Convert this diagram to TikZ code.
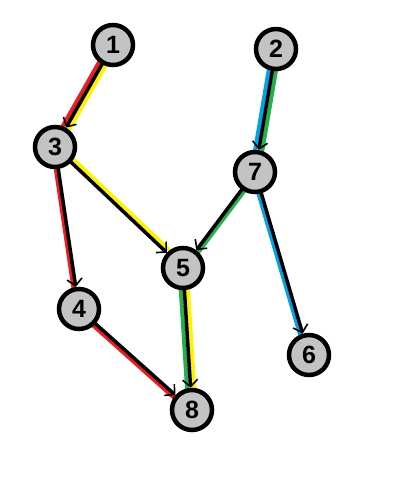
\documentclass[tikz,border=0pt]{standalone}
\usepackage{fontspec}
\setmainfont{Liberation Sans}
\usetikzlibrary{calc,arrows.meta,backgrounds}
\definecolor{pred}{HTML}{ED1C24}
\definecolor{pyellow}{HTML}{FFF200}
\definecolor{pgreen}{HTML}{22B14C}
\definecolor{pblue}{HTML}{00A2E8}
\definecolor{pgray}{HTML}{C3C3C3}
\tikzset{
  vert/.style={circle,draw=black,line width=4.5pt,fill=pgray,minimum size=40pt,inner sep=0pt,font=\bfseries\fontsize{25}{25}\selectfont},
  blk/.style={draw=black,line width=3.5pt,-{Straight Barb[length=7pt,width=15pt,line width=1.6pt]}},
  col/.style={line width=4pt,line cap=butt},
}
\newcommand\offl[4]{\draw[col,#1] ($(#2.center)!#4!90:(#3.center)$) -- ($(#3.center)!#4!-90:(#2.center)$);}
\begin{document}
\begin{tikzpicture}[x=1pt,y=-1pt]
\node[vert] (n1) at (113,45) {1};
\node[vert] (n2) at (276,49) {2};
\node[vert] (n3) at (55,147) {3};
\node[vert] (n7) at (255,172) {7};
\node[vert] (n5) at (183,268) {5};
\node[vert] (n4) at (79,309) {4};
\node[vert] (n6) at (309,355) {6};
\node[vert] (n8) at (192,410) {8};
\begin{scope}[on background layer]
\fill[white] (0,0) rectangle (410,477);
\offl{pred}{n1}{n3}{-3.6pt}
\offl{pyellow}{n1}{n3}{3.6pt}
\offl{pyellow}{n3}{n5}{3.6pt}
\offl{pred}{n3}{n4}{-2.4pt}
\offl{pred}{n4}{n8}{-2.8pt}
\offl{pyellow}{n5}{n8}{3.6pt}
\offl{pgreen}{n5}{n8}{-3.6pt}
\offl{pgreen}{n2}{n7}{3.6pt}
\offl{pblue}{n2}{n7}{-3.6pt}
\offl{pgreen}{n7}{n5}{2.8pt}
\offl{pblue}{n7}{n6}{-2.8pt}
\draw[blk] (n1.center) -- (n3);
\draw[blk] (n3.center) -- (n5);
\draw[blk] (n3.center) -- (n4);
\draw[blk] (n4.center) -- (n8);
\draw[blk] (n5.center) -- (n8);
\draw[blk] (n2.center) -- (n7);
\draw[blk] (n7.center) -- (n5);
\draw[blk] (n7.center) -- (n6);
\end{scope}
\useasboundingbox (0,0) rectangle (410,477);
\end{tikzpicture}
\end{document}
